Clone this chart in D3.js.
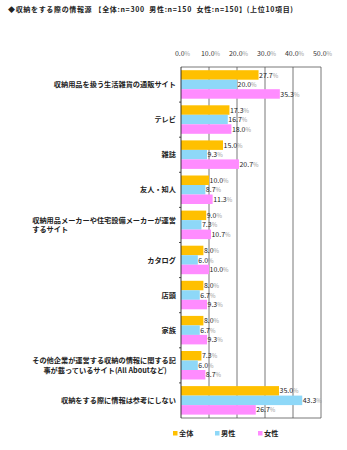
<!DOCTYPE html>
<html><head><meta charset="utf-8">
<script src="https://cdn.jsdelivr.net/npm/d3@7"></script>
<style>
html,body{margin:0;padding:0;background:#fff;}
text{font-family:"Noto Sans CJK JP","Noto Sans",sans-serif;}
</style></head><body>
<svg id="c" width="347" height="450"></svg>
<script>
const title = "◆収納をする際の情報源 【全体:n=300  男性:n=150  女性:n=150】(上位10項目)";
const categories = [
  ["収納用品を扱う生活雑貨の通販サイト"],
  ["テレビ"],
  ["雑誌"],
  ["友人・知人"],
  ["収納用品メーカーや住宅設備メーカーが運営","するサイト"],
  ["カタログ"],
  ["店頭"],
  ["家族"],
  ["その他企業が運営する収納の情報に関する記","事が載っているサイト(All Aboutなど)"],
  ["収納をする際に情報は参考にしない"]
];
const seriesNames = ["全体","男性","女性"];
const seriesColors = ["#FFC000","#8ED8F8","#FF8CFF"];
const zentai = [27.7,17.3,15.0,10.0,9.0,8.0,8.0,8.0,7.3,35.0];
const dansei = [20.0,16.7,9.3,8.7,7.3,6.0,6.7,6.7,6.0,43.3];
const josei  = [35.3,18.0,20.7,11.3,10.7,10.0,9.3,9.3,8.7,26.7];
const tickValues = [0,10,20,30,40,50];

const series = [zentai, dansei, josei];
const svg = d3.select("#c");
const x = d3.scaleLinear().domain([0,50]).range([181,321]);
const y = d3.scaleBand().domain(d3.range(categories.length)).range([67,418]);
const inner = d3.scaleBand().domain(d3.range(3)).range([3.2, y.bandwidth()-3.4]);

// title
svg.append("text").attr("x",8).attr("y",12).attr("font-size",7).attr("font-weight","bold")
  .attr("fill","#222").attr("textLength",285).attr("lengthAdjust","spacing").attr("xml:space","preserve")
  .style("white-space","pre").text(title);

// tick labels
const tl = svg.append("g").selectAll("text").data(tickValues).join("text")
  .attr("x", d=>x(d)+1.5).attr("y",55.5).attr("text-anchor","middle").attr("font-size",7).attr("fill","#333");
tl.append("tspan").text(d=>d.toFixed(1));
tl.append("tspan").attr("fill","#999").attr("font-size",6).text("%");

// grid
svg.append("g").selectAll("line").data(tickValues.slice(1)).join("line")
  .attr("x1",d=>x(d)).attr("x2",d=>x(d)).attr("y1",67).attr("y2",418)
  .attr("stroke","#555").attr("stroke-width",0.8);
svg.append("line").attr("x1",x(0)).attr("x2",x(50)).attr("y1",67).attr("y2",67).attr("stroke","#555").attr("stroke-width",0.8);
svg.append("line").attr("x1",x(0)).attr("x2",x(50)).attr("y1",418).attr("y2",418).attr("stroke","#555").attr("stroke-width",0.8);

// bars
categories.forEach((c,i)=>{
  series.forEach((s,j)=>{
    const y0 = y(i)+inner(j);
    svg.append("rect").attr("x",x(0)).attr("y",y0).attr("width",x(s[i])-x(0)).attr("height",inner.bandwidth())
      .attr("fill",seriesColors[j]);
    const t = svg.append("text").attr("x",x(s[i])+0.5).attr("y",y0+inner.bandwidth()/2+2.6)
      .attr("font-size",7).attr("fill","#222");
    t.append("tspan").text(s[i].toFixed(1));
    t.append("tspan").attr("fill","#999").attr("font-size",6).text("%");
  });
});

// left axis
svg.append("line").attr("x1",x(0)).attr("x2",x(0)).attr("y1",67).attr("y2",418).attr("stroke","#222").attr("stroke-width",0.9);
svg.append("g").selectAll("line").data(d3.range(1,categories.length)).join("line")
  .attr("x1",x(0)-2).attr("x2",x(0)).attr("y1",d=>y(d)).attr("y2",d=>y(d)).attr("stroke","#222").attr("stroke-width",0.8);

// category labels
categories.forEach((c,i)=>{
  const cy = y(i)+y.bandwidth()/2;
  if(c.length===1){
    svg.append("text").attr("x",176).attr("y",cy+2.5).attr("text-anchor","end")
      .attr("font-size",7.2).attr("font-weight","bold").attr("fill","#222").text(c[0]);
  } else {
    const t1 = svg.append("text").attr("x",176).attr("y",cy-2).attr("text-anchor","end")
      .attr("font-size",7.2).attr("font-weight","bold").attr("fill","#222").text(c[0]);
    const bb = t1.node().getBBox();
    const t2 = svg.append("text").attr("y",cy+7.5)
      .attr("font-size",7.2).attr("font-weight","bold").attr("fill","#222").text(c[1]);
    if(i===4){ t2.attr("x",bb.x).attr("text-anchor","start"); }
    else { t2.attr("x",bb.x+bb.width/2+1).attr("text-anchor","middle"); }
  }
});

// legend
const lx = [173,215,258];
seriesNames.forEach((n,j)=>{
  svg.append("rect").attr("x",lx[j]).attr("y",431).attr("width",4.5).attr("height",4.5).attr("fill",seriesColors[j]);
  svg.append("text").attr("x",lx[j]+6).attr("y",436.2).attr("font-size",7.2).attr("font-weight","bold").attr("fill","#222").text(n);
});
</script>
</body></html>
